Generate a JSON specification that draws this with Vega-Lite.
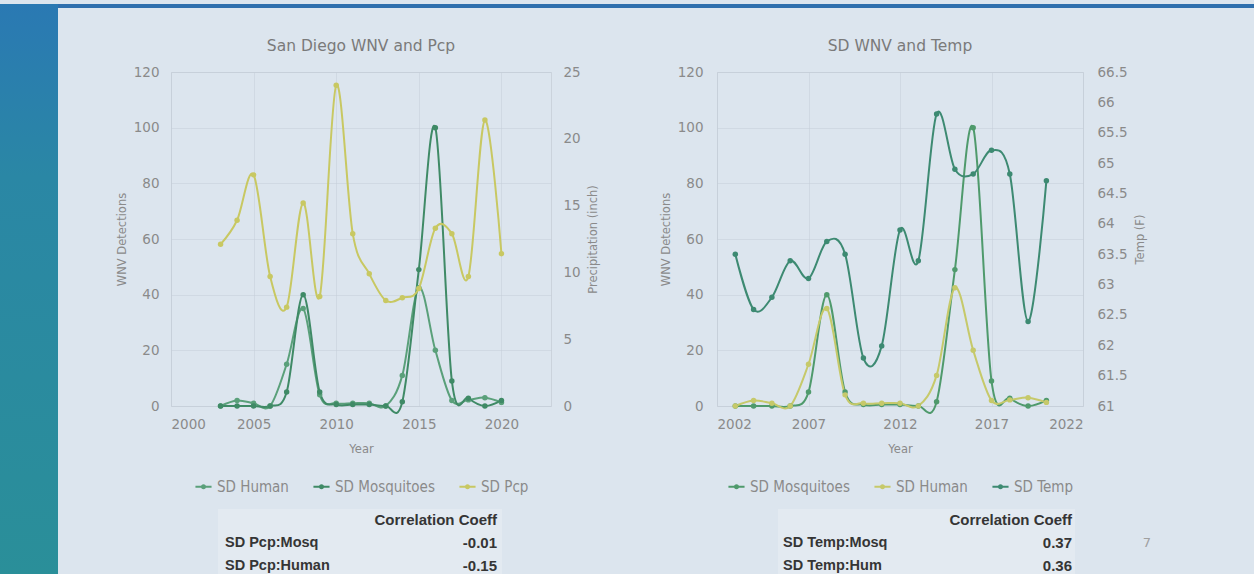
{
  "$schema": "https://vega.github.io/schema/vega-lite/v6.json",
  "background": "#dce5ee",
  "padding": 0,
  "datasets": {
    "sd": [
      {"year": 2003, "SD Human": 0, "SD Mosquitoes": 0, "SD Pcp": 12.1, "SD Temp": 63.50},
      {"year": 2004, "SD Human": 2, "SD Mosquitoes": 0, "SD Pcp": 13.9, "SD Temp": 62.59},
      {"year": 2005, "SD Human": 1, "SD Mosquitoes": 0, "SD Pcp": 17.3, "SD Temp": 62.79},
      {"year": 2006, "SD Human": 0, "SD Mosquitoes": 0, "SD Pcp": 9.7, "SD Temp": 63.39},
      {"year": 2007, "SD Human": 15, "SD Mosquitoes": 5, "SD Pcp": 7.4, "SD Temp": 63.10},
      {"year": 2008, "SD Human": 35, "SD Mosquitoes": 40, "SD Pcp": 15.2, "SD Temp": 63.71},
      {"year": 2009, "SD Human": 4, "SD Mosquitoes": 5, "SD Pcp": 8.2, "SD Temp": 63.50},
      {"year": 2010, "SD Human": 1, "SD Mosquitoes": 0.5, "SD Pcp": 24.0, "SD Temp": 61.79},
      {"year": 2011, "SD Human": 1, "SD Mosquitoes": 0.5, "SD Pcp": 12.9, "SD Temp": 61.99},
      {"year": 2012, "SD Human": 1, "SD Mosquitoes": 0.5, "SD Pcp": 9.9, "SD Temp": 63.90},
      {"year": 2013, "SD Human": 0, "SD Mosquitoes": 0, "SD Pcp": 7.9, "SD Temp": 63.39},
      {"year": 2014, "SD Human": 11, "SD Mosquitoes": 1.5, "SD Pcp": 8.1, "SD Temp": 65.81},
      {"year": 2015, "SD Human": 42.5, "SD Mosquitoes": 49, "SD Pcp": 8.8, "SD Temp": 64.90},
      {"year": 2016, "SD Human": 20, "SD Mosquitoes": 100, "SD Pcp": 13.3, "SD Temp": 64.82},
      {"year": 2017, "SD Human": 2, "SD Mosquitoes": 9, "SD Pcp": 12.9, "SD Temp": 65.21},
      {"year": 2018, "SD Human": 2.2, "SD Mosquitoes": 2.8, "SD Pcp": 9.7, "SD Temp": 64.82},
      {"year": 2019, "SD Human": 3, "SD Mosquitoes": 0, "SD Pcp": 21.4, "SD Temp": 62.39},
      {"year": 2020, "SD Human": 1.3, "SD Mosquitoes": 2, "SD Pcp": 11.4, "SD Temp": 64.71}
    ],
    "tl": [
      {"row": "h", "col": "value", "text": "Correlation Coeff"},
      {"row": "r1", "col": "label", "text": "SD Pcp:Mosq"},
      {"row": "r1", "col": "value", "text": "-0.01"},
      {"row": "r2", "col": "label", "text": "SD Pcp:Human"},
      {"row": "r2", "col": "value", "text": "-0.15"}
    ],
    "tr": [
      {"row": "h", "col": "value", "text": "Correlation Coeff"},
      {"row": "r1", "col": "label", "text": "SD Temp:Mosq"},
      {"row": "r1", "col": "value", "text": "0.37"},
      {"row": "r2", "col": "label", "text": "SD Temp:Hum"},
      {"row": "r2", "col": "value", "text": "0.36"}
    ]
  },
  "config": {
    "font": "DejaVu Sans",
    "view": {"stroke": null},
    "axis": {"domain": false, "ticks": false, "labelColor": "#8a8a8a", "titleColor": "#8a8a8a", "labelFont": "DejaVu Sans", "labelFontSize": 13.5, "titleFont": "DejaVu Sans", "titleFontSize": 11.5, "titleFontWeight": "normal", "grid": false, "gridColor": "#c4ced8"},
    "title": {"fontSize": 15.5, "fontWeight": "normal", "color": "#7a7a7a", "font": "DejaVu Sans"},
    "legend": {"orient": "bottom", "direction": "horizontal", "labelFont": "DejaVu Sans Condensed", "labelFontSize": 15, "labelColor": "#8a8a8a", "symbolType": "M-1,0L1,0M-0.2,0A0.2,0.2,0,1,0,0.2,0A0.2,0.2,0,1,0,-0.2,0", "symbolSize": 260, "symbolStrokeWidth": 2, "columnPadding": 20, "offset": 22, "layout": {"bottom": {"anchor": "middle"}}}
  },
  "spacing": 0,
  "resolve": {"scale": {"color": "independent"}, "legend": {"color": "independent"}},
  "hconcat": [
    {
      "width": 58, "height": 574,
      "data": {"values": [{}]},
      "mark": {"type": "text", "text": ""},
      "view": {"stroke": null, "fill": {"gradient": "linear", "x1": 0, "y1": 0, "x2": 0, "y2": 1, "stops": [{"offset": 0, "color": "#2a79b3"}, {"offset": 0.3, "color": "#2a87a5"}, {"offset": 1, "color": "#2a8f99"}]}}
    },
    {
      "spacing": 27,
      "resolve": {"scale": {"color": "independent"}, "legend": {"color": "independent"}},
      "vconcat": [
        {
          "width": 1196, "height": 4,
          "data": {"values": [{}]},
          "mark": {"type": "text", "text": ""},
          "view": {"stroke": null, "fill": "#2f6fad"}
        },
        {
          "spacing": 9,
          "resolve": {"scale": {"color": "independent"}, "legend": {"color": "independent"}},
          "vconcat": [
            {
              "spacing": 0,
              "resolve": {"scale": {"color": "independent"}, "legend": {"color": "independent"}},
              "hconcat": [
                {"width": 57, "height": 4, "data": {"values": [{}]}, "mark": {"type": "text", "text": ""}},
                {
                  "width": 380, "height": 334,
                  "title": {"text": "San Diego WNV and Pcp", "offset": 11},
                  "data": {"name": "sd"},
                  "view": {"stroke": "#cbd3dc"},
                  "encoding": {
                    "x": {"field": "year", "type": "quantitative", "scale": {"domain": [2000, 2023]},
                          "axis": {"values": [2000, 2005, 2010, 2015, 2020], "format": "d", "title": "Year", "labelPadding": 11, "titlePadding": 13, "grid": true, "gridOpacity": 0.5}}
                  },
                  "layer": [
                    {
                      "transform": [{"fold": ["SD Human", "SD Mosquitoes"], "as": ["series", "value"]}],
                      "mark": {"type": "line", "interpolate": "cardinal", "strokeWidth": 2, "point": {"filled": true, "size": 30}},
                      "encoding": {
                        "y": {"field": "value", "type": "quantitative", "scale": {"domain": [0, 120]},
                              "axis": {"values": [0, 20, 40, 60, 80, 100, 120], "title": "WNV Detections", "labelPadding": 12, "titlePadding": 6, "grid": true, "gridOpacity": 0.5}},
                        "color": {"field": "series", "type": "nominal", "title": null,
                                  "scale": {"domain": ["SD Human", "SD Mosquitoes", "SD Pcp"], "range": ["#5aa07a", "#3f8a66", "#c8c862"]}}
                      }
                    },
                    {
                      "transform": [{"fold": ["SD Pcp"], "as": ["series", "value"]}],
                      "mark": {"type": "line", "interpolate": "cardinal", "strokeWidth": 2, "point": {"filled": true, "size": 30}},
                      "encoding": {
                        "y": {"field": "value", "type": "quantitative", "scale": {"domain": [0, 25]},
                              "axis": {"orient": "right", "values": [0, 5, 10, 15, 20, 25], "title": "Precipitation (inch)", "titleAngle": 270, "titleBaseline": "top", "labelPadding": 12, "titlePadding": 7}},
                        "color": {"field": "series", "type": "nominal", "title": null}
                      }
                    }
                  ],
                  "resolve": {"scale": {"y": "independent"}}
                },
                {"width": 59, "height": 4, "data": {"values": [{}]}, "mark": {"type": "text", "text": ""}},
                {
                  "width": 366, "height": 334,
                  "title": {"text": "SD WNV and Temp", "offset": 11},
                  "data": {"name": "sd"},
                  "view": {"stroke": "#cbd3dc"},
                  "encoding": {
                    "x": {"field": "year", "type": "quantitative", "scale": {"domain": [2002, 2022]},
                          "axis": {"values": [2002, 2007, 2012, 2017, 2022], "format": "d", "title": "Year", "labelPadding": 11, "titlePadding": 13, "grid": true, "gridOpacity": 0.5}}
                  },
                  "layer": [
                    {
                      "transform": [{"fold": ["SD Mosquitoes", "SD Human"], "as": ["series", "value"]}],
                      "mark": {"type": "line", "interpolate": "cardinal", "strokeWidth": 2, "point": {"filled": true, "size": 30}},
                      "encoding": {
                        "y": {"field": "value", "type": "quantitative", "scale": {"domain": [0, 120]},
                              "axis": {"values": [0, 20, 40, 60, 80, 100, 120], "title": "WNV Detections", "labelPadding": 14, "titlePadding": 6, "grid": true, "gridOpacity": 0.5}},
                        "color": {"field": "series", "type": "nominal", "title": null,
                                  "scale": {"domain": ["SD Mosquitoes", "SD Human", "SD Temp"], "range": ["#4f9a6c", "#c6c96a", "#3d8a72"]}}
                      }
                    },
                    {
                      "transform": [{"fold": ["SD Temp"], "as": ["series", "value"]}],
                      "mark": {"type": "line", "interpolate": "cardinal", "strokeWidth": 2, "point": {"filled": true, "size": 30}},
                      "encoding": {
                        "y": {"field": "value", "type": "quantitative", "scale": {"domain": [61, 66.5]},
                              "axis": {"orient": "right", "values": [61, 61.5, 62, 62.5, 63, 63.5, 64, 64.5, 65, 65.5, 66, 66.5], "format": "~g", "title": "Temp (F)", "titleAngle": 270, "titleBaseline": "top", "labelPadding": 14, "titlePadding": 7}},
                        "color": {"field": "series", "type": "nominal", "title": null}
                      }
                    }
                  ],
                  "resolve": {"scale": {"y": "independent"}}
                }
              ]
            },
            {
              "spacing": 0,
              "hconcat": [
                {"width": 160, "height": 4, "data": {"values": [{}]}, "mark": {"type": "text", "text": ""}},
                {
                  "width": 284, "height": 68,
                  "data": {"name": "tl"},
                  "view": {"fill": "#e3eaf1", "stroke": null},
                  "encoding": {
                    "y": {"field": "row", "type": "nominal", "scale": {"type": "point", "domain": ["h", "r1", "r2"], "padding": 0.5}, "axis": null},
                    "x": {"field": "col", "type": "nominal", "scale": {"type": "point", "domain": ["label", "value"], "range": [7, 279], "padding": 0}, "axis": null},
                    "text": {"field": "text"}
                  },
                  "layer": [
                    {"transform": [{"filter": "datum.col === 'label'"}], "mark": {"type": "text", "align": "left", "baseline": "middle", "font": "Liberation Sans Narrow, Liberation Sans", "fontWeight": "bold", "fontSize": 14.5, "color": "#353535"}},
                    {"transform": [{"filter": "datum.col === 'value'"}], "mark": {"type": "text", "align": "right", "baseline": "middle", "font": "Liberation Sans Narrow, Liberation Sans", "fontWeight": "bold", "fontSize": 15, "color": "#353535"}}
                  ]
                },
                {"width": 276, "height": 4, "data": {"values": [{}]}, "mark": {"type": "text", "text": ""}},
                {
                  "width": 297, "height": 68,
                  "data": {"name": "tr"},
                  "view": {"fill": "#e3eaf1", "stroke": null},
                  "encoding": {
                    "y": {"field": "row", "type": "nominal", "scale": {"type": "point", "domain": ["h", "r1", "r2"], "padding": 0.5}, "axis": null},
                    "x": {"field": "col", "type": "nominal", "scale": {"type": "point", "domain": ["label", "value"], "range": [5, 294], "padding": 0}, "axis": null},
                    "text": {"field": "text"}
                  },
                  "layer": [
                    {"transform": [{"filter": "datum.col === 'label'"}], "mark": {"type": "text", "align": "left", "baseline": "middle", "font": "Liberation Sans Narrow, Liberation Sans", "fontWeight": "bold", "fontSize": 14.5, "color": "#353535"}},
                    {"transform": [{"filter": "datum.col === 'value'"}], "mark": {"type": "text", "align": "right", "baseline": "middle", "font": "Liberation Sans Narrow, Liberation Sans", "fontWeight": "bold", "fontSize": 15, "color": "#353535"}}
                  ]
                },
                {"width": 62, "height": 4, "data": {"values": [{}]}, "mark": {"type": "text", "text": ""}},
                {
                  "width": 20, "height": 68,
                  "data": {"values": [{"text": "7"}]},
                  "mark": {"type": "text", "fontSize": 13, "color": "#a0a0a0"},
                  "encoding": {"text": {"field": "text"}}
                }
              ]
            }
          ]
        }
      ]
    }
  ]
}
